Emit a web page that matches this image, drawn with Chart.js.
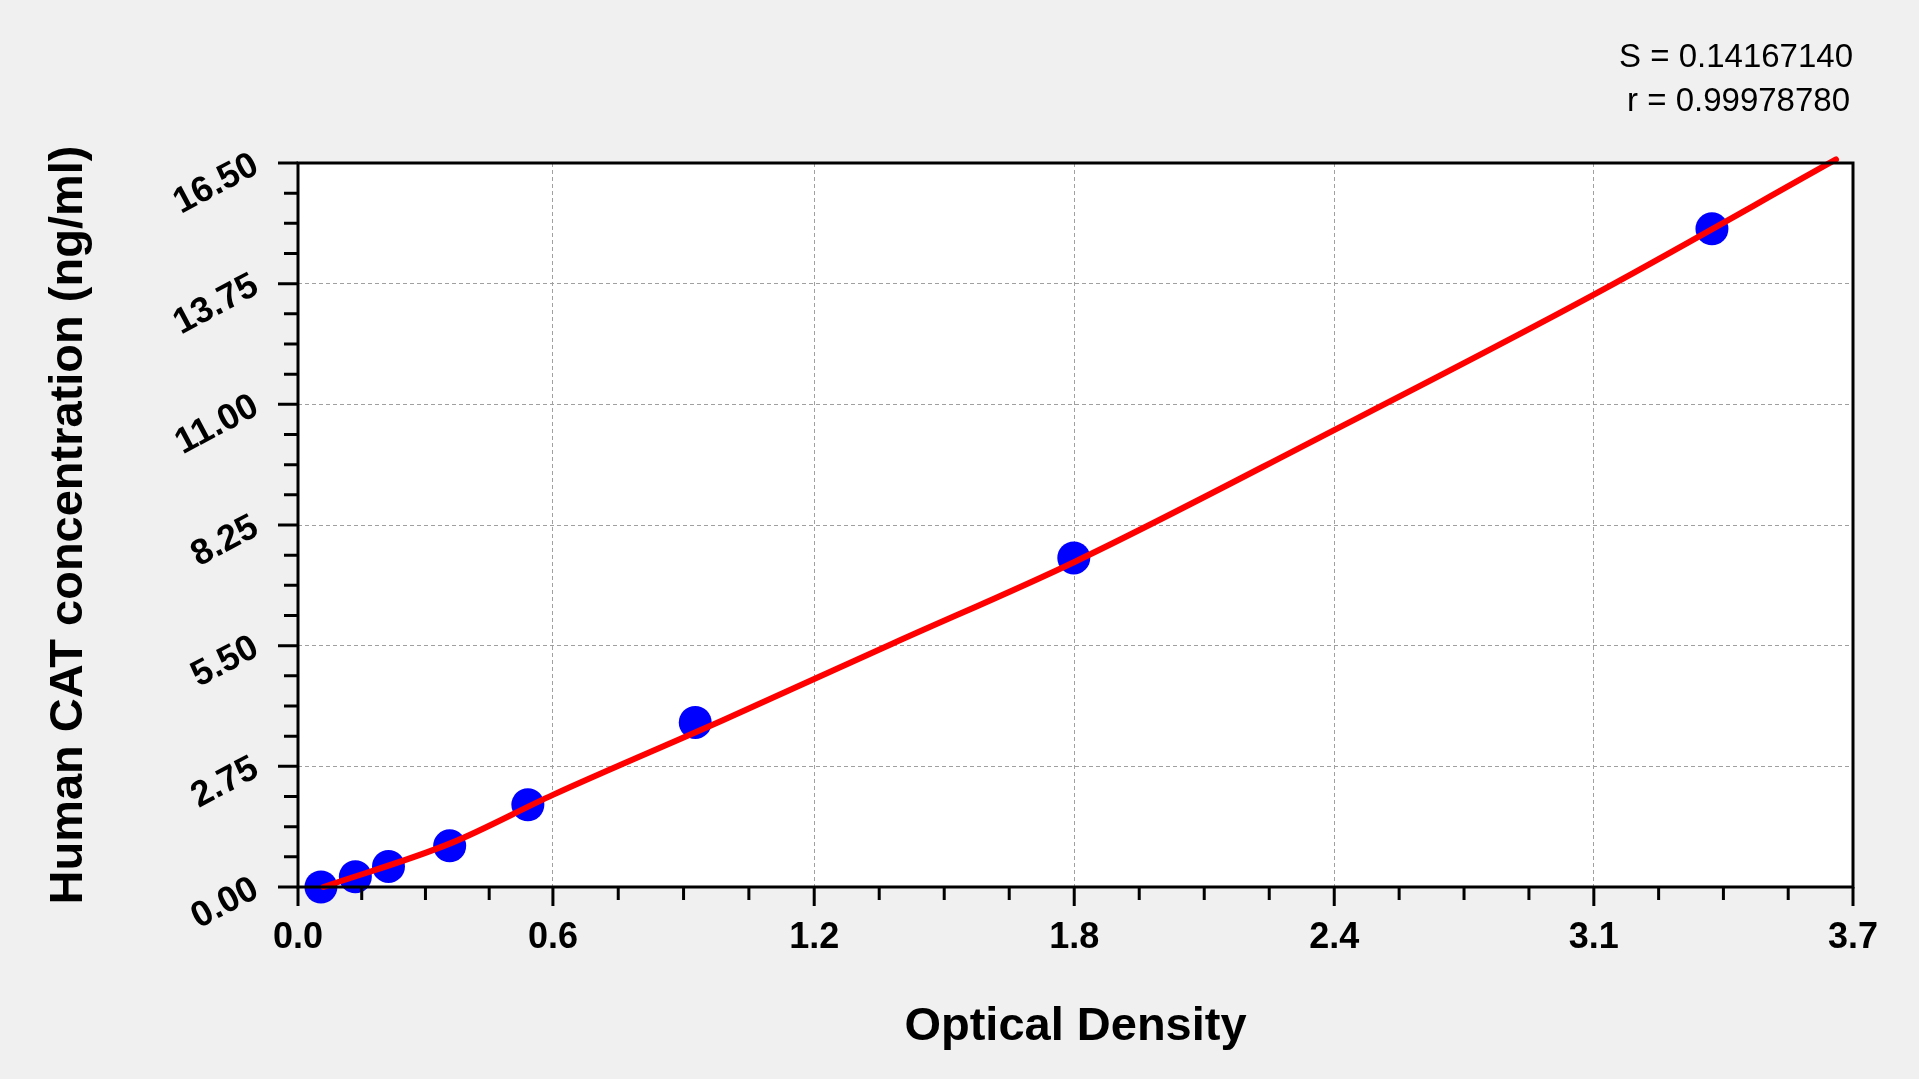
<!DOCTYPE html>
<html>
<head>
<meta charset="utf-8">
<title>Human CAT standard curve</title>
<script src="https://cdn.jsdelivr.net/npm/chart.js@4.4.1/dist/chart.umd.min.js"></script>
<style>
  html, body { margin: 0; padding: 0; background: #f0f0f0; }
  canvas { display: block; }
</style>
</head>
<body>
<canvas id="curve" width="1919" height="1079"></canvas>
<script>
// standards (OD vs concentration)
const odValues = [0.054, 0.135, 0.213, 0.357, 0.541, 0.935, 1.826, 3.328];
const concValues = [0, 0.234, 0.469, 0.938, 1.875, 3.75, 7.5, 15];

// fitted curve
const fitOd = [0.06, 0.36, 0.60, 1.00, 1.40, 1.83, 2.40, 3.05, 3.62];
const fitConc = [0.00, 1.00, 2.10, 3.80, 5.55, 7.42, 10.22, 13.50, 16.58];

// axis ticks
const xTickValues = [0, 0.60, 1.215, 1.827, 2.439, 3.05, 3.66];
const xTickLabels = ['0.0', '0.6', '1.2', '1.8', '2.4', '3.1', '3.7'];
const yTickValues = [0, 2.75, 5.5, 8.25, 11, 13.75, 16.5];

const statLines = ['S = 0.14167140', 'r = 0.99978780'];

const FONT = '"Liberation Sans", Arial, sans-serif';

// white plot area, black frame, major/minor tick marks, fit statistics
const frame = {
  id: 'frame',
  beforeDraw(chart) {
    const { ctx, chartArea: a } = chart;
    ctx.save();
    ctx.fillStyle = '#ffffff';
    ctx.fillRect(a.left, a.top, a.right - a.left, a.bottom - a.top);
    ctx.restore();
  },
  afterDatasetsDraw(chart) {
    const { ctx, chartArea: a, scales } = chart;
    const x = scales.x, y = scales.y;
    ctx.save();
    ctx.strokeStyle = '#000000';
    ctx.lineWidth = 3;
    ctx.strokeRect(a.left, a.top, a.right - a.left, a.bottom - a.top);

    ctx.beginPath();
    for (let i = 0; i < xTickValues.length; i++) {
      const px = x.getPixelForValue(xTickValues[i]);
      ctx.moveTo(px, a.bottom);
      ctx.lineTo(px, a.bottom + 19);
      if (i < xTickValues.length - 1) {
        const next = x.getPixelForValue(xTickValues[i + 1]);
        for (let k = 1; k < 4; k++) {
          const m = px + (next - px) * k / 4;
          ctx.moveTo(m, a.bottom);
          ctx.lineTo(m, a.bottom + 13);
        }
      }
    }
    for (let i = 0; i < yTickValues.length; i++) {
      const py = y.getPixelForValue(yTickValues[i]);
      ctx.moveTo(a.left, py);
      ctx.lineTo(a.left - 20, py);
      if (i < yTickValues.length - 1) {
        const next = y.getPixelForValue(yTickValues[i + 1]);
        for (let k = 1; k < 4; k++) {
          const m = py + (next - py) * k / 4;
          ctx.moveTo(a.left, m);
          ctx.lineTo(a.left - 14, m);
        }
      }
    }
    ctx.stroke();

    ctx.fillStyle = '#000000';
    ctx.font = '33px ' + FONT;
    ctx.textAlign = 'right';
    ctx.textBaseline = 'alphabetic';
    ctx.fillText(statLines[0], a.right, 67);
    ctx.fillText(statLines[1], a.right - 3, 111);
    ctx.restore();
  }
};

new Chart(document.getElementById('curve'), {
  type: 'scatter',
  data: {
    datasets: [
      {
        label: 'fit',
        data: fitOd.map((v, i) => ({ x: v, y: fitConc[i] })),
        showLine: true,
        borderColor: '#ff0000',
        borderWidth: 6,
        borderCapStyle: 'round',
        pointRadius: 0,
        pointHoverRadius: 0,
        cubicInterpolationMode: 'monotone',
        clip: false,
        order: 0
      },
      {
        label: 'standards',
        data: odValues.map((v, i) => ({ x: v, y: concValues[i] })),
        backgroundColor: '#0000ff',
        borderWidth: 0,
        pointRadius: 16.5,
        pointHoverRadius: 16.5,
        clip: false,
        order: 1
      }
    ]
  },
  options: {
    responsive: false,
    animation: false,
    layout: { padding: { top: 163, right: 66, left: 0, bottom: 0 } },
    plugins: { legend: { display: false }, tooltip: { enabled: false } },
    scales: {
      x: {
        type: 'linear',
        min: 0,
        max: 3.66,
        afterBuildTicks: s => { s.ticks = xTickValues.map(v => ({ value: v })); },
        afterFit: s => { s.height = 192; },
        grid: { color: '#a0a0a0', lineWidth: 1, drawTicks: false },
        border: { display: false, dash: [4, 3] },
        ticks: {
          padding: 29,
          color: '#000000',
          autoSkip: false,
          maxRotation: 0,
          font: { family: FONT, size: 36, weight: 'bold' },
          callback: (v, i) => xTickLabels[i]
        },
        title: {
          display: true,
          text: 'Optical Density',
          color: '#000000',
          font: { family: FONT, size: 47, weight: 'bold' },
          padding: { top: 0, bottom: 24 }
        }
      },
      y: {
        type: 'linear',
        min: 0,
        max: 16.5,
        afterBuildTicks: s => { s.ticks = yTickValues.map(v => ({ value: v })); },
        afterFit: s => { s.width = 298; },
        grid: { color: '#a0a0a0', lineWidth: 1, drawTicks: false },
        border: { display: false, dash: [4, 3] },
        ticks: {
          padding: 42,
          color: '#000000',
          autoSkip: false,
          minRotation: 28,
          maxRotation: 28,
          font: { family: FONT, size: 36, weight: 'bold' },
          callback: v => Number(v).toFixed(2)
        },
        title: {
          display: true,
          text: 'Human CAT concentration (ng/ml)',
          color: '#000000',
          font: { family: FONT, size: 47, weight: 'bold' },
          padding: { top: 41, bottom: 0 }
        }
      }
    }
  },
  plugins: [frame]
});
</script>
</body>
</html>
